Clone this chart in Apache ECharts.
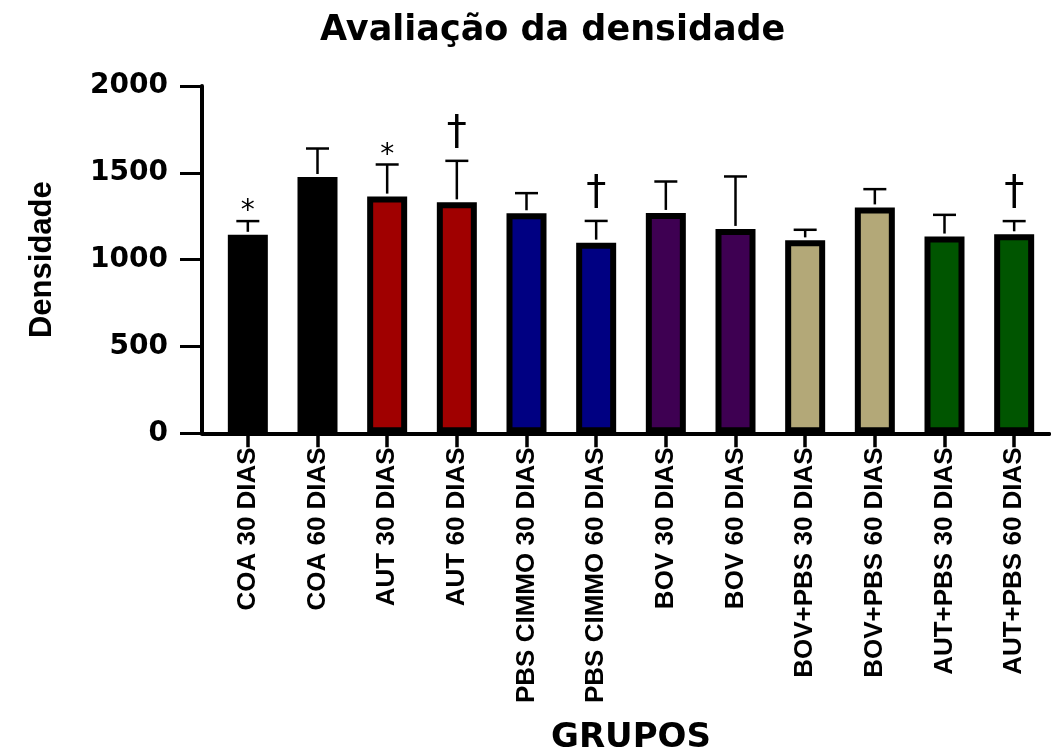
<!DOCTYPE html>
<html>
<head>
<meta charset="utf-8">
<script src="https://cdn.jsdelivr.net/npm/echarts@6/dist/echarts.min.js"></script>
<style>
html,body{margin:0;padding:0;background:#fff;}
#chart{width:1051px;height:751px;}
</style>
</head>
<body>
<div id="chart"></div>
<script>
var categories = ['COA 30 DIAS','COA 60 DIAS','AUT 30 DIAS','AUT 60 DIAS','PBS CIMMO 30 DIAS','PBS CIMMO 60 DIAS','BOV 30 DIAS','BOV 60 DIAS','BOV+PBS 30 DIAS','BOV+PBS 60 DIAS','AUT+PBS 30 DIAS','AUT+PBS 60 DIAS'];
var means = [1143, 1476, 1363, 1330, 1267, 1098, 1269, 1177, 1111, 1301, 1133, 1146];
var errors = [79, 164, 185, 239, 116, 125, 181, 302, 61, 105, 125, 76];
var marks = ['*', '', '*', '\u2020', '', '\u2020', '', '', '', '', '', '\u2020'];
var barColors = ['#000000','#000000','#a00000','#a00000','#000082','#000082','#3e0052','#3e0052','#b3a878','#b3a878','#005500','#005500'];
var yTicks = [0, 500, 1000, 1500, 2000];

var narrow = "'Liberation Sans',Arial,sans-serif";
var wide = "'DejaVu Sans',sans-serif";

var chart = echarts.init(document.getElementById('chart'));
var gridTop = 86, gridBottom = 317.7;

var option = {
  animation: false,
  backgroundColor: '#ffffff',
  title: {
    text: 'Avaliação da densidade',
    left: 315, top: 8,
    textStyle: {fontFamily: wide, fontWeight: 'bold', fontSize: 35, color: '#000'}
  },
  grid: [
    {left: 202, right: 2, top: gridTop, bottom: gridBottom, containLabel: false, outerBoundsMode: 'none'},
    {left: 213, right: 2, top: gridTop, bottom: gridBottom, containLabel: false, outerBoundsMode: 'none'}
  ],
  xAxis: [
    {
      gridIndex: 0, type: 'value', min: 0, max: 1,
      axisLine: {show: true, lineStyle: {color: '#000', width: 4}},
      axisTick: {show: false}, axisLabel: {show: false}, splitLine: {show: false}
    },
    {
      gridIndex: 1, type: 'category', data: categories,
      name: 'GRUPOS', nameLocation: 'middle', nameGap: 288,
      nameTextStyle: {fontFamily: wide, fontWeight: 'bold', fontSize: 34, color: '#000'},
      axisLine: {show: true, lineStyle: {color: '#000', width: 4}},
      axisTick: {show: true, alignWithLabel: true, length: 14, lineStyle: {color: '#000', width: 3.5}},
      axisLabel: {rotate: 90, margin: 14, fontFamily: narrow, fontWeight: 'bold', fontSize: 26, color: '#000', interval: 0}
    }
  ],
  yAxis: [
    {
      gridIndex: 0, type: 'value', min: yTicks[0], max: yTicks[yTicks.length - 1], interval: 500,
      name: 'Densidade', nameLocation: 'middle', nameGap: 144,
      nameTextStyle: {fontFamily: narrow, fontWeight: 'bold', fontSize: 31, color: '#000'},
      axisLine: {show: true, lineStyle: {color: '#000', width: 4}},
      axisTick: {show: true, length: 22, lineStyle: {color: '#000', width: 3}},
      axisLabel: {margin: 34, fontFamily: wide, fontWeight: 'bold', fontSize: 28, color: '#000',
        formatter: function (v) { return String(v); }},
      splitLine: {show: false}
    },
    {
      gridIndex: 1, type: 'value', min: 0, max: 2000, show: false, splitLine: {show: false}
    }
  ],
  series: [
    {
      type: 'bar', xAxisIndex: 1, yAxisIndex: 1,
      barWidth: 40,
      data: means.map(function (v, i) {
        return {value: v, itemStyle: {color: barColors[i], borderColor: '#000', borderWidth: 6}};
      }),
      z: 2
    },
    {
      type: 'custom', xAxisIndex: 1, yAxisIndex: 1, z: 3,
      data: means.map(function (v, i) { return [i, v, v + errors[i]]; }),
      renderItem: function (params, api) {
        var x = api.value(0);
        var base = api.coord([x, api.value(1)]);
        var top = api.coord([x, api.value(2)]);
        var mark = marks[params.dataIndex];
        var children = [
          {type: 'line', shape: {x1: base[0], y1: base[1] - 3, x2: top[0], y2: top[1]}, style: {stroke: '#000', lineWidth: 2.5}},
          {type: 'line', shape: {x1: top[0] - 11.5, y1: top[1], x2: top[0] + 11.5, y2: top[1]}, style: {stroke: '#000', lineWidth: 2.5}}
        ];
        if (mark) {
          var isStar = mark === '*';
          children.push({
            type: 'text',
            style: {
              text: mark, x: top[0], y: top[1] - (isStar ? 9 : 27),
              align: 'center', verticalAlign: 'middle',
              fontFamily: wide, fontWeight: 'normal',
              fontSize: isStar ? 28 : 40, fill: '#000'
            }
          });
        }
        return {type: 'group', children: children};
      }
    }
  ]
};
chart.setOption(option);
</script>
</body>
</html>
